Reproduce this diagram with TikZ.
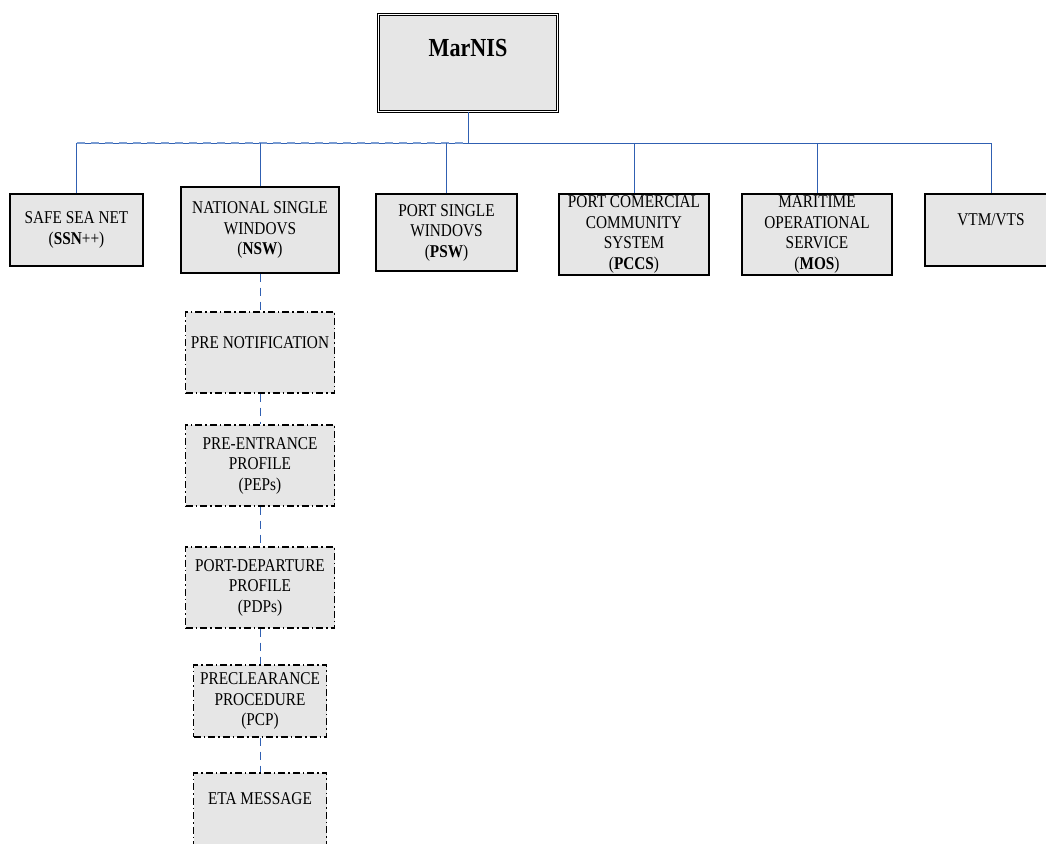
\documentclass[tikz,border=0pt]{standalone}
\usepackage{fontspec}
\setmainfont{Liberation Serif}[FakeStretch=0.85]
\usepackage{tikz}
\usetikzlibrary{positioning}
\definecolor{boxgray}{RGB}{230,230,230}
\definecolor{linkblue}{RGB}{48,96,178}
\definecolor{dashblue}{RGB}{120,155,210}
\tikzset{
  topbox/.style={draw, double, double distance=1.4pt, line width=0.9pt, fill=boxgray, minimum width=179pt, minimum height=97pt, align=center, font=\fontsize{26}{30}\selectfont\bfseries},
  unitbox/.style={draw, line width=1.1pt, fill=boxgray, inner sep=1pt, align=center, font=\fontsize{18}{20.5}\selectfont},
  stagebox/.style={unitbox, dash pattern=on 7pt off 3pt on 1.5pt off 3pt},
  busline/.style={draw=linkblue, line width=0.9pt},
  busdash/.style={draw=dashblue, line width=1.6pt, dash pattern=on 8pt off 6pt},
  chainline/.style={draw=linkblue, line width=0.9pt, dash pattern=on 8pt off 6pt}
}

\begin{document}
\begin{tikzpicture}[x=1pt, y=-1pt]
  \useasboundingbox[fill=white] (0,0) rectangle (1046,843);
  \node[topbox] (marnis) at (468,63) {MarNIS\\\phantom{M}};
  \node[unitbox, minimum width=133pt, minimum height=72pt] (ssn) at (76.5,230) {SAFE SEA NET\\(\textbf{SSN}++)};
  \node[unitbox, minimum width=158pt, minimum height=86pt] (nsw) at (260,230) {NATIONAL SINGLE\\WINDOVS\\(\textbf{NSW})};
  \node[unitbox, minimum width=141pt, minimum height=77pt] (psw) at (446.5,232.5) {PORT SINGLE\\WINDOVS\\(\textbf{PSW})};
  \node[unitbox, minimum width=150pt, minimum height=81pt] (pccs) at (634,234.5) {PORT COMERCIAL\\COMMUNITY\\SYSTEM\\(\textbf{PCCS})};
  \node[unitbox, minimum width=150pt, minimum height=81pt] (mos) at (817,234.5) {MARITIME\\OPERATIONAL\\SERVICE\\(\textbf{MOS})};
  \node[unitbox, minimum width=132pt, minimum height=72pt] (vtm) at (991,230) {VTM/VTS\\\phantom{V}};
  \node[stagebox, minimum width=149pt, minimum height=81pt] (prenote) at (260,352.5) {PRE NOTIFICATION\\\phantom{P}};
  \node[stagebox, minimum width=149pt, minimum height=81pt] (peps) at (260,465.5) {PRE-ENTRANCE\\PROFILE\\(PEPs)};
  \node[stagebox, minimum width=149pt, minimum height=81pt] (pdps) at (260,587.5) {PORT-DEPARTURE\\PROFILE\\(PDPs)};
  \node[stagebox, minimum width=133pt, minimum height=72pt] (pcp) at (260,701) {PRECLEARANCE\\PROCEDURE\\(PCP)};
  \node[stagebox, minimum width=133pt, minimum height=72pt] (eta) at (260,809) {ETA MESSAGE\\\phantom{E}};
  \coordinate (bus) at (468,143);
  \draw[busline] (marnis) -- (bus);
  \draw[busline] (ssn.north) -- (ssn.north |- bus) -- (vtm.north |- bus) -- (vtm.north);
  \draw[busdash] (ssn.north |- bus) -- (bus);
  \foreach \n in {nsw,psw,pccs,mos}
    \draw[busline] (\n.north) -- (\n.north |- bus);
  \foreach \a/\b in {nsw/prenote, prenote/peps, peps/pdps, pdps/pcp, pcp/eta}
    \draw[chainline] (\a) -- (\b);
\end{tikzpicture}
\end{document}
